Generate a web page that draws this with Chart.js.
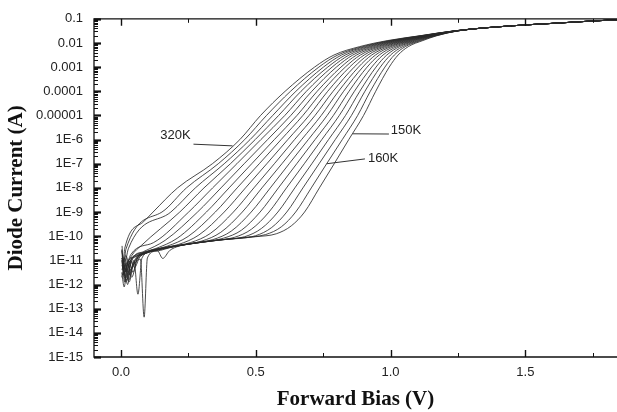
<!DOCTYPE html>
<html>
<head>
<meta charset="utf-8">
<title>Diode current vs forward bias</title>
<script src="https://cdn.jsdelivr.net/npm/chart.js@4.4.0/dist/chart.umd.min.js"></script>
<style>
  html, body { margin: 0; padding: 0; background: #fff; }
  canvas { display: block; }
</style>
</head>
<body>
<canvas id="ivChart" width="617" height="412"></canvas>
<script>
// Forward I-V sweeps, 320 K down to 150 K in 10 K steps.
// Every point is [bias (V), log10 of diode current (A)].
const temps = [320, 310, 300, 290, 280, 270, 260, 250, 240, 230, 220, 210, 200, 190, 180, 170, 160, 150];

const k320 = [[0.003, -10.55], [0.008, -11.1], [0.014, -10.5], [0.084, -9.4], [0.119, -9], [0.210, -8], [0.339, -7], [0.441, -6], [0.518, -5], [0.609, -4], [0.718, -3], [0.790, -2.5], [0.886, -2.15], [0.990, -1.9], [1.110, -1.7], [1.235, -1.5]];
const k310 = [[0.004, -10.4], [0.010, -11.3], [0.018, -10.55], [0.152, -9], [0.243, -8], [0.361, -7], [0.459, -6], [0.540, -5], [0.629, -4], [0.734, -3], [0.804, -2.5], [0.897, -2.15], [0.998, -1.9], [1.114, -1.7], [1.236, -1.5]];
const k300 = [[0.003, -11.0], [0.011, -11.6], [0.020, -10.9], [0.028, -10.5], [0.185, -9], [0.276, -8], [0.383, -7], [0.479, -6], [0.563, -5], [0.649, -4], [0.751, -3], [0.818, -2.5], [0.907, -2.15], [1.005, -1.9], [1.117, -1.7], [1.237, -1.5]];
const k290 = [[0.005, -10.8], [0.013, -11.9], [0.024, -11.2], [0.040, -10.8], [0.075, -10.39], [0.218, -9], [0.308, -8], [0.406, -7], [0.498, -6], [0.585, -5], [0.668, -4], [0.767, -3], [0.832, -2.5], [0.918, -2.15], [1.013, -1.9], [1.121, -1.7], [1.238, -1.5]];
const k280 = [[0.003, -11.5], [0.012, -12.1], [0.022, -11.3], [0.037, -10.75], [0.120, -10.27], [0.251, -9], [0.340, -8], [0.430, -7], [0.519, -6], [0.608, -5], [0.688, -4], [0.783, -3], [0.846, -2.5], [0.928, -2.15], [1.021, -1.9], [1.125, -1.7], [1.239, -1.5]];
const k270 = [[0.004, -10.9], [0.015, -11.6], [0.025, -12.0], [0.035, -11.1], [0.050, -10.8], [0.083, -10.64], [0.164, -10.17], [0.284, -9], [0.371, -8], [0.457, -7], [0.544, -6], [0.630, -5], [0.708, -4], [0.799, -3], [0.860, -2.5], [0.939, -2.15], [1.028, -1.9], [1.128, -1.7], [1.239, -1.5]];
const k260 = [[0.006, -11.2], [0.018, -11.9], [0.030, -11.4], [0.045, -10.9], [0.080, -10.68], [0.129, -10.51], [0.208, -10.09], [0.317, -9], [0.401, -8], [0.485, -7], [0.569, -6], [0.653, -5], [0.728, -4], [0.816, -3], [0.874, -2.5], [0.950, -2.15], [1.036, -1.9], [1.132, -1.7], [1.240, -1.5]];
const k250 = [[0.003, -10.6], [0.016, -11.4], [0.028, -11.0], [0.045, -11.5], [0.060, -10.9], [0.100, -10.62], [0.172, -10.41], [0.249, -10.01], [0.350, -9], [0.431, -8], [0.513, -7], [0.594, -6], [0.675, -5], [0.747, -4], [0.832, -3], [0.888, -2.5], [0.960, -2.15], [1.044, -1.9], [1.136, -1.7], [1.241, -1.5]];
const k240 = [[0.005, -11.1], [0.020, -11.7], [0.038, -11.0], [0.055, -10.85], [0.100, -10.63], [0.160, -10.47], [0.214, -10.34], [0.289, -9.95], [0.383, -9], [0.462, -8], [0.541, -7], [0.619, -6], [0.698, -5], [0.767, -4], [0.848, -3], [0.902, -2.5], [0.971, -2.15], [1.051, -1.9], [1.139, -1.7], [1.242, -1.5]];
const k230 = [[0.004, -11.4], [0.014, -10.9], [0.030, -11.8], [0.048, -11.0], [0.063, -12.4], [0.078, -10.9], [0.120, -10.6], [0.180, -10.44], [0.259, -10.26], [0.331, -9.89], [0.417, -9], [0.493, -8], [0.569, -7], [0.644, -6], [0.720, -5], [0.787, -4], [0.865, -3], [0.916, -2.5], [0.981, -2.15], [1.059, -1.9], [1.143, -1.7], [1.243, -1.5]];
const k220 = [[0.003, -10.9], [0.020, -11.5], [0.035, -11.0], [0.050, -11.3], [0.070, -10.85], [0.120, -10.58], [0.200, -10.41], [0.300, -10.2], [0.370, -9.84], [0.450, -9], [0.523, -8], [0.597, -7], [0.670, -6], [0.743, -5], [0.807, -4], [0.881, -3], [0.930, -2.5], [0.992, -2.15], [1.067, -1.9], [1.147, -1.7], [1.244, -1.5]];
const k210 = [[0.006, -11.6], [0.022, -11.1], [0.040, -11.7], [0.060, -10.95], [0.100, -10.65], [0.135, -10.6], [0.155, -10.92], [0.180, -10.6], [0.215, -10.41], [0.280, -10.26], [0.341, -10.14], [0.409, -9.79], [0.483, -9], [0.554, -8], [0.624, -7], [0.695, -6], [0.765, -5], [0.826, -4], [0.897, -3], [0.944, -2.5], [1.002, -2.15], [1.074, -1.9], [1.150, -1.7], [1.245, -1.5]];
const k200 = [[0.004, -11.2], [0.020, -11.8], [0.040, -11.3], [0.072, -10.95], [0.086, -13.35], [0.098, -10.9], [0.130, -10.62], [0.200, -10.42], [0.300, -10.24], [0.381, -10.08], [0.447, -9.75], [0.516, -9], [0.584, -8], [0.652, -7], [0.720, -6], [0.788, -5], [0.846, -4], [0.913, -3], [0.958, -2.5], [1.013, -2.15], [1.082, -1.9], [1.154, -1.7], [1.246, -1.5]];
const k190 = [[0.005, -10.7], [0.015, -11.3], [0.030, -11.9], [0.045, -11.2], [0.065, -10.9], [0.100, -10.66], [0.150, -10.5], [0.250, -10.32], [0.350, -10.17], [0.420, -10.05], [0.484, -9.71], [0.549, -9], [0.614, -8], [0.680, -7], [0.745, -6], [0.810, -5], [0.866, -4], [0.930, -3], [0.972, -2.5], [1.024, -2.15], [1.089, -1.9], [1.157, -1.7], [1.246, -1.5]];
const k180 = [[0.004, -11.0], [0.012, -11.5], [0.028, -11.0], [0.050, -10.85], [0.090, -10.7], [0.160, -10.5], [0.260, -10.31], [0.360, -10.16], [0.459, -10.02], [0.521, -9.68], [0.582, -9], [0.645, -8], [0.708, -7], [0.770, -6], [0.833, -5], [0.886, -4], [0.946, -3], [0.986, -2.5], [1.034, -2.15], [1.097, -1.9], [1.161, -1.7], [1.247, -1.5]];
const k170 = [[0.006, -11.3], [0.018, -10.8], [0.035, -11.4], [0.055, -10.95], [0.100, -10.68], [0.180, -10.47], [0.280, -10.28], [0.380, -10.14], [0.499, -9.98], [0.559, -9.64], [0.615, -9], [0.675, -8], [0.735, -7], [0.795, -6], [0.855, -5], [0.905, -4], [0.962, -3], [1.000, -2.5], [1.045, -2.15], [1.105, -1.9], [1.165, -1.7], [1.248, -1.5]];
const k160 = [[0.003, -11.7], [0.016, -11.2], [0.030, -11.6], [0.050, -11.0], [0.090, -10.72], [0.150, -10.52], [0.250, -10.33], [0.350, -10.18], [0.450, -10.06], [0.537, -9.93], [0.595, -9.61], [0.648, -9], [0.706, -8], [0.763, -7], [0.821, -6], [0.878, -5], [0.925, -4], [0.979, -3], [1.014, -2.5], [1.055, -2.15], [1.112, -1.9], [1.168, -1.7], [1.249, -1.5]];
const k150 = [[0.005, -11.0], [0.020, -11.4], [0.040, -10.9], [0.070, -10.75], [0.120, -10.6], [0.200, -10.42], [0.300, -10.25], [0.400, -10.12], [0.500, -10.02], [0.576, -9.9], [0.632, -9.57], [0.681, -9], [0.736, -8], [0.791, -7], [0.845, -6], [0.900, -5], [0.945, -4], [0.995, -3], [1.028, -2.5], [1.066, -2.15], [1.120, -1.9], [1.172, -1.7], [1.250, -1.5]];

// all sweeps run together into one line above ~1.4 V
const sharedTail = [[1.45, -1.29], [1.60, -1.19], [1.75, -1.09], [1.84, -1.04]];

const curves = [k320, k310, k300, k290, k280, k270, k260, k250, k240, k230, k220, k210, k200, k190, k180, k170, k160, k150];

const xTickValues = [0, 0.5, 1.0, 1.5];
const xTickLabels = ['0.0', '0.5', '1.0', '1.5'];
const yTickValues = [1e-15, 1e-14, 1e-13, 1e-12, 1e-11, 1e-10, 1e-9, 1e-8, 1e-7, 1e-6, 1e-5, 1e-4, 1e-3, 1e-2, 1e-1];
const yTickLabels = ['1E-15', '1E-14', '1E-13', '1E-12', '1E-11', '1E-10', '1E-9', '1E-8', '1E-7', '1E-6', '0.00001', '0.0001', '0.001', '0.01', '0.1'];

const labelFont = "'Liberation Sans', Arial, sans-serif";
const titleFont = "'Liberation Serif', 'Times New Roman', serif";

// frame, inward ticks and the temperature callouts
const frameAndNotes = {
    id: 'frameAndNotes',
    afterDraw(chart) {
        const { ctx, chartArea: a, scales: { x, y } } = chart;
        ctx.save();
        ctx.strokeStyle = '#111';
        ctx.lineWidth = 1.3;
        ctx.beginPath();
        ctx.moveTo(a.right, a.top);
        ctx.lineTo(a.left, a.top);
        ctx.lineTo(a.left, a.bottom);
        ctx.lineTo(a.right, a.bottom);
        ctx.stroke();

        // x ticks, bottom and top
        for (let v = 0; v <= 1.76; v += 0.25) {
            const px = Math.round(x.getPixelForValue(v)) + 0.5;
            const major = v % 0.5 === 0;
            const len = major ? 7 : 4;
            ctx.lineWidth = major ? 1.4 : 1;
            ctx.beginPath();
            ctx.moveTo(px, a.bottom);
            ctx.lineTo(px, a.bottom - len);
            ctx.moveTo(px, a.top);
            ctx.lineTo(px, a.top + len);
            ctx.stroke();
        }

        // y ticks, log minors between decades
        yTickValues.forEach((dec) => {
            const py = Math.round(y.getPixelForValue(dec)) + 0.5;
            ctx.lineWidth = 2.2;
            ctx.beginPath();
            ctx.moveTo(a.left, py);
            ctx.lineTo(a.left + 7, py);
            ctx.stroke();
            if (dec >= 0.1) return;
            ctx.lineWidth = 1;
            for (let m = 2; m <= 9; m++) {
                const pm = Math.round(y.getPixelForValue(dec * m)) + 0.5;
                ctx.beginPath();
                ctx.moveTo(a.left, pm);
                ctx.lineTo(a.left + 4, pm);
                ctx.stroke();
            }
        });

        // callouts: [text, curve end, text end, text anchor] in data units (V, log10 A)
        const notes = [
            [temps[0] + 'K', [0.414, -6.26], [0.269, -6.19], [0.146, -5.83]],
            [temps[17] + 'K', [0.858, -5.76], [0.994, -5.77], [1.001, -5.64]],
            [temps[16] + 'K', [0.763, -7.0], [0.905, -6.80], [0.916, -6.76]]
        ];
        ctx.strokeStyle = '#333';
        ctx.lineWidth = 1;
        ctx.fillStyle = '#222';
        ctx.font = '13px ' + labelFont;
        ctx.textAlign = 'left';
        ctx.textBaseline = 'middle';
        notes.forEach(([text, p0, p1, at]) => {
            ctx.beginPath();
            ctx.moveTo(x.getPixelForValue(p0[0]), y.getPixelForValue(10 ** p0[1]));
            ctx.lineTo(x.getPixelForValue(p1[0]), y.getPixelForValue(10 ** p1[1]));
            ctx.stroke();
            ctx.fillText(text, x.getPixelForValue(at[0]), y.getPixelForValue(10 ** at[1]));
        });
        ctx.restore();
    }
};

const datasets = curves.map((pts, i) => ({
    label: temps[i] + 'K',
    data: pts.concat(sharedTail).map(([v, e]) => ({ x: v, y: 10 ** e })),
    borderColor: '#2b2b2b',
    borderWidth: 0.85,
    pointRadius: 0,
    fill: false,
    cubicInterpolationMode: 'monotone'
}));

Chart.defaults.color = '#222';

new Chart(document.getElementById('ivChart'), {
    type: 'line',
    data: { datasets },
    options: {
        responsive: false,
        animation: false,
        devicePixelRatio: 1,
        layout: { padding: { left: 0, top: 15, right: 0, bottom: 0 } },
        plugins: { legend: { display: false }, tooltip: { enabled: false } },
        scales: {
            x: {
                type: 'linear',
                min: -0.1,
                max: 1.84,
                grid: { display: false, drawTicks: false },
                border: { display: false },
                afterBuildTicks: (scale) => { scale.ticks = xTickValues.map((v) => ({ value: v })); },
                afterFit: (scale) => { scale.height = 55; },
                ticks: {
                    padding: 8,
                    maxRotation: 0,
                    font: { family: labelFont, size: 13 },
                    callback: (v, i) => xTickLabels[i]
                },
                title: {
                    display: true,
                    text: 'Forward Bias (V)',
                    color: '#111',
                    padding: { top: 0, bottom: 0 },
                    font: { family: titleFont, size: 21, weight: 'bold' }
                }
            },
            y: {
                type: 'logarithmic',
                min: 1e-15,
                max: 0.1,
                grid: { display: false, drawTicks: false },
                border: { display: false },
                afterBuildTicks: (scale) => { scale.ticks = yTickValues.map((v) => ({ value: v })); },
                afterFit: (scale) => { scale.width = 94; },
                ticks: {
                    padding: 11,
                    font: { family: labelFont, size: 13 },
                    callback: (v, i) => yTickLabels[i]
                },
                title: {
                    display: true,
                    text: 'Diode Current (A)',
                    color: '#111',
                    padding: { top: 4, bottom: 0 },
                    font: { family: titleFont, size: 21, weight: 'bold' }
                }
            }
        }
    },
    plugins: [frameAndNotes]
});
</script>
</body>
</html>
